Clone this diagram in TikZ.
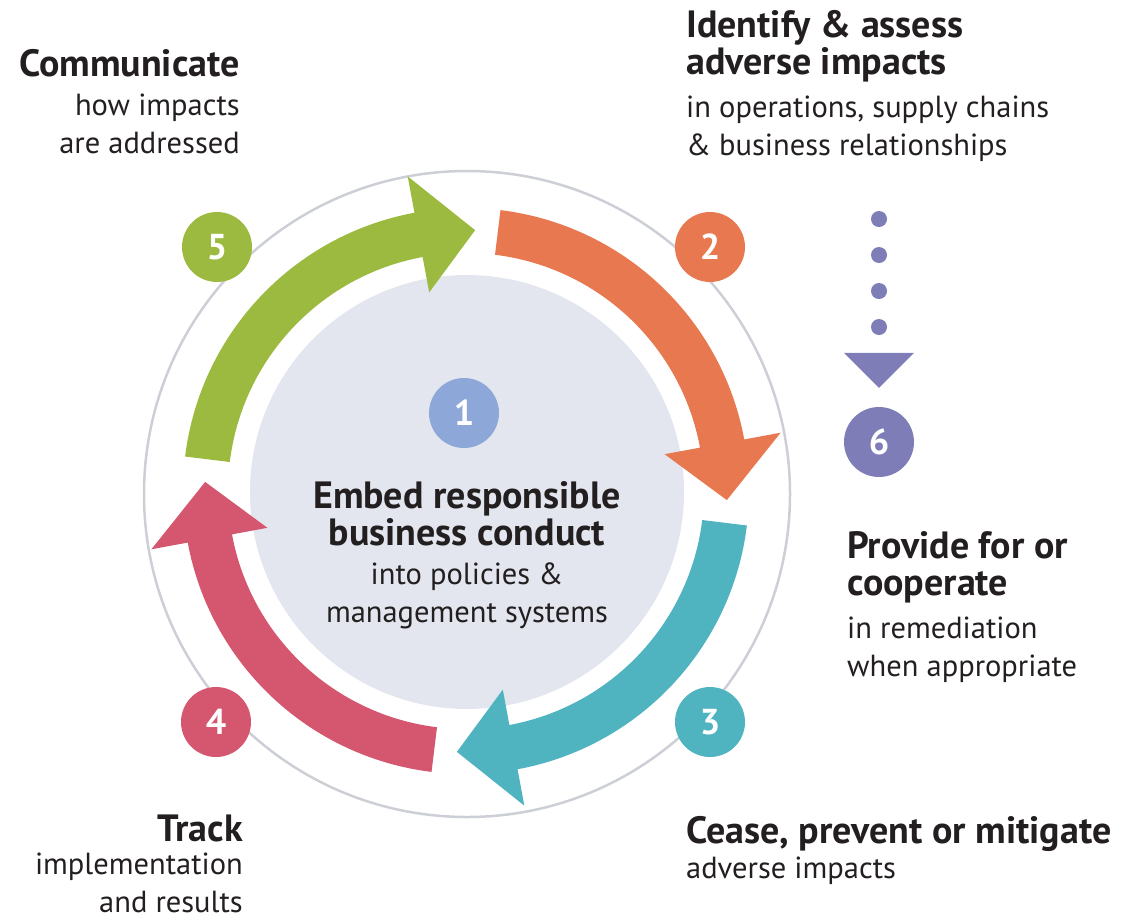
\documentclass[tikz,border=0pt]{standalone}
\usepackage{fontspec}
\setmainfont{PT Sans}
\usepackage{tikz}
\usetikzlibrary{arrows.meta}

\definecolor{stepone}{HTML}{8DA7D8}
\definecolor{steptwo}{HTML}{E8784F}
\definecolor{stepthree}{HTML}{50B3C0}
\definecolor{stepfour}{HTML}{D4566F}
\definecolor{stepfive}{HTML}{9BBA3F}
\definecolor{stepsix}{HTML}{7E7DB7}
\definecolor{discgray}{HTML}{E3E6EE}
\definecolor{ringgray}{HTML}{CDCFD6}
\definecolor{textgray}{HTML}{231F20}

\begin{document}
\begin{tikzpicture}[x=1pt,y=-1pt,
    numdot/.style={circle,minimum size=70pt,inner sep=0pt,text=white,
      font=\fontsize{36}{36}\selectfont\bfseries},
    head/.style={inner sep=0pt,text=textgray,font=\fontsize{38}{37}\selectfont\bfseries},
    sub/.style={inner sep=0pt,text=textgray,font=\fontsize{30.5}{38}\selectfont}]
  \useasboundingbox (0,0) rectangle (1129,919);
  % outer ring
  \draw[ringgray, line width=2.5pt] (467,494) circle [radius=323];
  % centre disc
  \fill[discgray] (467,492) circle [radius=217];
  % ring arrows 2 -> 3 -> 4 -> 5
  \begin{scope}[shift={(466,491)}, yscale=-1]
    \foreach \a/\c in {83/steptwo, -7/stepthree, -97/stepfour, -187/stepfive}{
      \fill[\c] (\a:283) arc[start angle=\a, end angle=\a-72.5, radius=283]
        -- (\a-72.5:320) -- (\a-85:261) -- (\a-72.5:202) -- (\a-72.5:238)
        arc[start angle=\a-72.5, end angle=\a, radius=238] -- cycle;
    }
  \end{scope}
  % numbers
  \node[numdot, fill=stepone] (one) at (464,413) {1};
  \node[numdot, fill=steptwo] (two) at (710,247) {2};
  \node[numdot, fill=stepthree] (three) at (710,722) {3};
  \node[numdot, fill=stepfour] (four) at (216,722) {4};
  \node[numdot, fill=stepfive] (five) at (217,247) {5};
  \node[numdot, fill=stepsix] (six) at (879,442) {6};
  % dotted arrow down to 6
  \coordinate (dots) at (879,219);
  \draw[stepsix, line width=16pt, line cap=round, dash pattern=on 0pt off 36pt,
    -{Triangle[width=70pt,length=35pt,line width=0pt]}] (dots) -- ([yshift=19pt]six.north);
  % centre text (base = last line)
  \node[head, anchor=base, align=center] (embed) at (467,545) {Embed responsible\\business conduct};
  \node[sub, anchor=base, align=center] (embedsub) at (467,622) {into policies \&\\management systems};
  % step 2
  \node[head, anchor=base west, align=left] (identify) at (686,74) {Identify \& assess\\adverse impacts};
  \node[sub, anchor=base west, align=left] (identifysub) at (686,155) {in operations, supply chains\\\& business relationships};
  % step 6
  \node[head, anchor=base west, align=left] (provide) at (847,595) {Provide for or\\cooperate};
  \node[sub, anchor=base west, align=left] (providesub) at (847,676) {in remediation\\when appropriate};
  % step 3
  \node[head, anchor=base west, align=left] (cease) at (686,843) {Cease, prevent or mitigate};
  \node[sub, anchor=base west, align=left] (ceasesub) at (686,878) {adverse impacts};
  % step 4
  \node[head, anchor=base east, align=right] (track) at (243,841) {Track};
  \node[sub, anchor=base east, align=right] (tracksub) at (243,912) {implementation\\and results};
  % step 5
  \node[head, anchor=base east, align=right] (communicate) at (240,76) {Communicate};
  \node[sub, anchor=base east, align=right] (communicatesub) at (240,153) {how impacts\\are addressed};
\end{tikzpicture}
\end{document}
